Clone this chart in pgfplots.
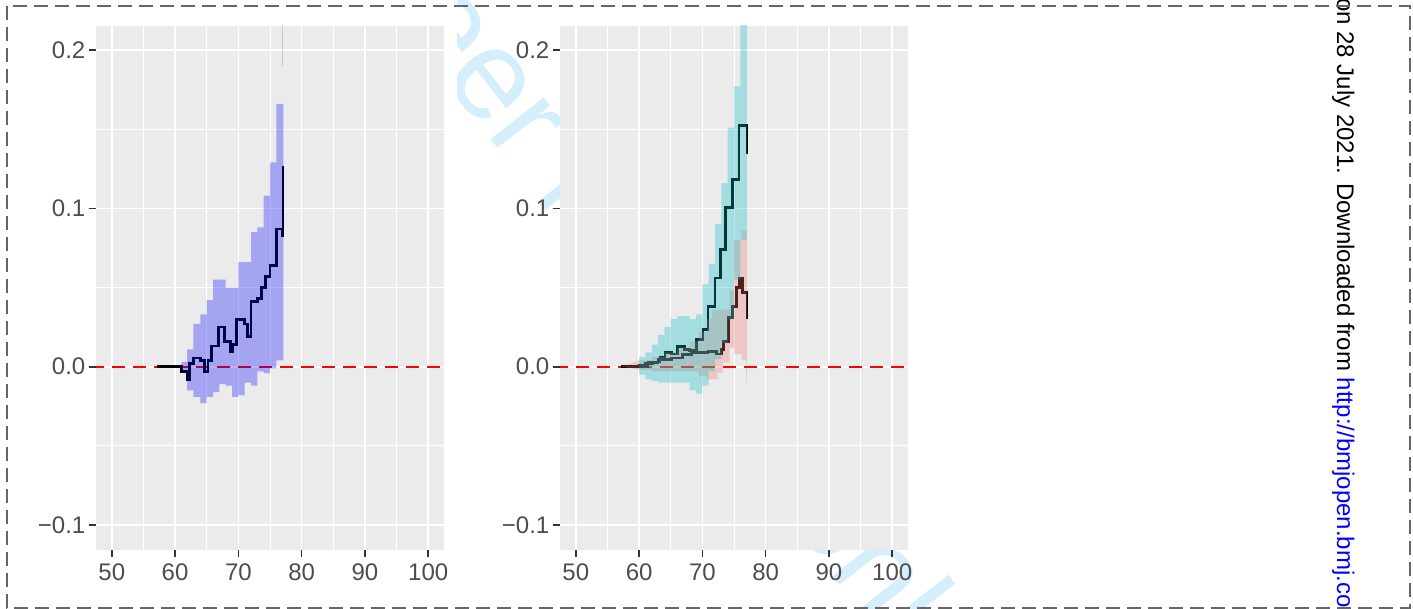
\documentclass[border=0pt]{standalone}
\usepackage{fontspec}
\setmainfont{Liberation Sans}
\usepackage{pgfplots}
\pgfplotsset{compat=1.18}
\usepackage{pgfplotstable}

\definecolor{ggbg}{HTML}{EBEBEB}
\definecolor{gg30}{HTML}{4D4D4D}
\definecolor{gg20}{HTML}{333333}
\definecolor{ggteal}{HTML}{00BFC4}
\definecolor{ggred}{HTML}{F8766D}
\definecolor{wm}{HTML}{D5EEFB}
\definecolor{brd}{HTML}{666666}

\pgfplotstableread{
x y
57.1 0
61.0 -0.003
61.9 -0.008
62.3 0.002
62.9 0.0055
64.0 0.004
64.7 -0.003
65.2 0.004
65.8 0.013
66.9 0.025
67.8 0.016
68.8 0.0097
69.1 0.014
69.7 0.030
71.0 0.027
71.4 0.019
72.0 0.041
73.0 0.043
73.6 0.050
74.3 0.057
75.0 0.064
76.0 0.087
76.95 0.083
77.05 0.126
77.1 0.126
}\leftln

\pgfplotstableread{
x y
57.2 0
60.0 0.0005
61.0 0.002
62.2 0.003
63.3 0.0057
64.1 0.009
65.1 0.008
66.1 0.0128
67.2 0.011
68.0 0.010
69.1 0.017
70.1 0.0234
70.9 0.038
72.0 0.056
72.9 0.074
73.7 0.1006
74.8 0.118
75.8 0.1525
77.05 0.135
77.07 0.135
}\tealln

\pgfplotstableread{
x y
57.2 0
60.1 0.0
61.4 0.0025
63.0 0.0044
65.1 0.0055
66.9 0.0076
68.3 0.009
69.6 0.009
70.9 0.0097
72.2 0.008
73.0 0.011
73.3 0.016
74.1 0.031
74.8 0.038
75.4 0.050
75.9 0.056
76.3 0.047
77.05 0.031
77.07 0.031
}\redln

\pgfplotsset{
  ggstyle/.style={
    scale only axis, width=348pt, height=524pt,
    xmin=47.5, xmax=102.5, ymin=-0.1158, ymax=0.2152,
    axis background/.style={fill=ggbg},
    axis line style={draw=none},
    xtick={50,60,70,80,90,100}, xticklabels={50,60,70,80,90,100},
    ytick={-0.1,0,0.1,0.2}, yticklabels={−0.1,0.0,0.1,0.2},
    minor xtick={55,65,75,85,95}, minor ytick={-0.05,0.05,0.15},
    grid=both,
    major grid style={white, line width=1.7pt},
    minor grid style={white, line width=0.9pt},
    tick align=outside, xtick pos=left, ytick pos=left,
    major tick length=7.5pt, minor tick length=0pt,
    major tick style={gg20, line width=1.7pt},
    tick label style={text=gg30, font=\fontsize{24}{28}\selectfont, inner sep=0pt},
    xticklabel style={yshift=-6pt},
    yticklabel style={xshift=-3pt},
  },
  zeroline/.style={red, line width=1.8pt, dash pattern=on 13pt off 8pt},
  stepline/.style={black, line width=2.8pt, const plot},
  band/.style={draw=none, fill opacity=0.3},
}

\begin{document}
\begin{tikzpicture}[x=1pt, y=1pt]
% watermark
\node[anchor=base west, rotate=-52, inner sep=0pt, text=wm, font=\fontsize{128}{150}\selectfont] at (214,824) {For peer review only};
% white background of the left sub-figure
\fill[white] (-10,-10) rectangle (457,620);

\begin{axis}[ggstyle, at={(96pt,59pt)}, anchor=south west]
\addplot[zeroline] coordinates {(40,0) (110,0)};
\addplot[stepline] table[x=x, y=y] {\leftln};
\addplot[band, fill=blue] coordinates {
(57.1,0) (61.0,0) (61.0,0.003) (61.9,0.003) (61.9,0.011) (62.9,0.011) (62.9,0.027) (64.0,0.027)
(64.0,0.033) (65.0,0.033) (65.0,0.042) (66.0,0.042) (66.0,0.055) (68.0,0.055) (68.0,0.050) (70.0,0.050)
(70.0,0.066) (72.0,0.066) (72.0,0.085) (73.0,0.085) (73.0,0.088) (74.0,0.088) (74.0,0.108) (75.0,0.108)
(75.0,0.129) (76.0,0.129) (76.0,0.166) (77.1,0.166)
(77.1,0.004)
(76.0,0.004) (76.0,-0.001) (75.0,-0.001) (75.0,-0.004) (74.0,-0.004) (74.0,-0.003) (73.0,-0.003)
(73.0,-0.012) (72.0,-0.012) (72.0,-0.010) (71.0,-0.010) (71.0,-0.018) (70.0,-0.018) (70.0,-0.019)
(69.0,-0.019) (69.0,-0.012) (68.0,-0.012) (68.0,-0.011) (67.0,-0.011) (67.0,-0.016) (66.0,-0.016)
(66.0,-0.019) (65.0,-0.019) (65.0,-0.023) (64.0,-0.023) (64.0,-0.019) (62.9,-0.019) (62.9,-0.015)
(61.9,-0.015) (61.9,-0.003) (61.0,-0.003) (61.0,0) (57.1,0)
} --cycle;
\addplot[blue!60!gray, opacity=0.2, line width=0.8pt] coordinates {(77.0,0.19) (77.0,0.25)};
\end{axis}

\begin{axis}[ggstyle, at={(560pt,59pt)}, anchor=south west]
\addplot[zeroline] coordinates {(40,0) (110,0)};
\addplot[stepline] table[x=x, y=y] {\tealln};
\addplot[stepline] table[x=x, y=y] {\redln};
\addplot[band, fill=ggred] coordinates {
(57.2,0) (60.0,0.004) (62.0,0.004) (62.0,0.006) (64.0,0.006) (64.0,0.009) (66.0,0.009)
(66.0,0.012) (68.0,0.012) (68.0,0.016) (69.5,0.016) (69.5,0.022) (70.8,0.022) (70.8,0.030) (71.5,0.030)
(71.5,0.036) (74.3,0.036) (74.3,0.048) (75.0,0.048) (75.0,0.080) (76.2,0.080) (76.2,0.086) (77.05,0.086)
(77.05,0.004)
(76.2,0.004) (76.2,0.008) (75.0,0.008) (75.0,0.012) (74.3,0.012) (74.3,0.0025) (73.2,0.0025)
(73.2,-0.004) (72.4,-0.004) (72.4,-0.008) (70.8,-0.008) (70.8,-0.006) (69.5,-0.006) (69.5,-0.003)
(62.0,-0.003) (62.0,-0.002) (60.0,-0.002) (57.2,0)
} --cycle;
\addplot[band, fill=ggteal] coordinates {
(57.2,0) (60.0,0) (60.0,0.006) (61.0,0.006) (61.0,0.009) (62.0,0.009) (62.0,0.014) (63.0,0.014)
(63.0,0.020) (64.0,0.020) (64.0,0.025) (65.0,0.025) (65.0,0.030) (66.0,0.030) (66.0,0.032) (68.0,0.032)
(68.0,0.030) (69.0,0.030) (69.0,0.033) (70.0,0.033) (70.0,0.052) (71.0,0.052) (71.0,0.065) (72.0,0.065)
(72.0,0.090) (73.0,0.090) (73.0,0.116) (74.0,0.116) (74.0,0.151) (75.0,0.151) (75.0,0.177) (76.0,0.177)
(76.0,0.250) (77.05,0.250)
(77.05,0.080)
(76.0,0.080) (76.0,0.055) (75.0,0.055) (75.0,0.030) (74.0,0.030) (74.0,0.015) (73.0,0.015)
(73.0,0.005) (72.0,0.005) (72.0,-0.003) (71.0,-0.003) (71.0,-0.012) (70.0,-0.012) (70.0,-0.017)
(69.0,-0.017) (69.0,-0.015) (68.0,-0.015) (68.0,-0.010) (63.0,-0.010) (63.0,-0.009) (62.0,-0.009)
(62.0,-0.008) (61.0,-0.008) (61.0,-0.005) (60.0,-0.005) (60.0,0) (57.2,0)
} --cycle;
\addplot[gray, opacity=0.2, line width=0.8pt] coordinates {(77.0,0.004) (77.0,-0.01)};
\end{axis}

\node[anchor=base west, rotate=-90, inner sep=0pt, font=\fontsize{24}{28}\selectfont] at (1337,611) {on 28 July 2021. Downloaded from \textcolor{blue}{http://bmjopen.bmj.com/}};

\draw[brd, line width=2pt, dash pattern=on 14pt off 7pt] (7,603) rectangle (1410,1);
\pgfresetboundingbox
\useasboundingbox (0,0) rectangle (1413,609);
\end{tikzpicture}
\end{document}
